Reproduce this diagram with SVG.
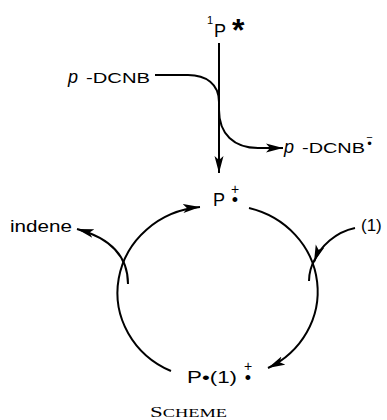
<svg xmlns="http://www.w3.org/2000/svg" width="387" height="420" viewBox="0 0 387 420">
<style>
.t{font-family:"Liberation Sans","DejaVu Sans",Arial,sans-serif;fill:#000}
.c{fill:none;stroke:#000;stroke-width:2}
.a{marker-end:url(#ah)}
</style>
<defs>
<marker id="ah" markerUnits="userSpaceOnUse" markerWidth="18" markerHeight="10" refX="17" refY="5" orient="auto">
<path d="M0,0.5 L17,5 L0,9.5 L4,5 Z" fill="#000"/>
</marker>
</defs>
<rect width="387" height="420" fill="#fff"/>
<g id="connectors">
<path class="c a" d="M219 43 V173"/>
<path class="c" d="M155 75 H188 C206 75 219 84 219 102"/>
<path class="c a" d="M219 110 C219 134 234 148 258 148 H283"/>
<path class="c a" d="M249 208 A91 86 0 0 1 268 368"/>
<path class="c a" d="M171 371 A91 86 0 0 1 200 207"/>
<path class="c a" d="M128 284 C128 256 110 238 77 229"/>
<path class="c a" d="M355 228 C336 232 320 246 314 262"/>
<path class="c" d="M315 259 C311 266 309 273 309 281"/>
</g>
<g id="n_p1star">
<text class="t" x="207" y="24" font-size="11">1</text>
<text class="t" x="214" y="37" font-size="18">P</text>
<text class="t" x="232" y="41" font-size="32" font-weight="bold">*</text>
</g>
<g id="n_dcnb">
<text class="t" x="68" y="83" font-size="15"><tspan font-style="italic" font-size="18">p</tspan><tspan x="86" textLength="64" lengthAdjust="spacingAndGlyphs">-DCNB</tspan></text>
</g>
<g id="n_dcnb_anion">
<text class="t" x="284" y="153" font-size="15"><tspan font-style="italic" font-size="18">p</tspan><tspan x="302" textLength="63" lengthAdjust="spacingAndGlyphs">-DCNB</tspan></text>
<text class="t" text-anchor="middle"><tspan x="369.5" y="141" font-size="11">−</tspan><tspan x="369.5" y="148" font-size="13">•</tspan></text>
</g>
<g id="n_pcation">
<text class="t" x="213" y="206" font-size="18">P</text>
<text class="t" text-anchor="middle"><tspan x="235" y="194" font-size="14">+</tspan><tspan x="235" y="205.5" font-size="18">•</tspan></text>
</g>
<g id="n_indene">
<text class="t" x="10" y="232" font-size="17" textLength="62" lengthAdjust="spacingAndGlyphs">indene</text>
</g>
<g id="n_one">
<text class="t" x="361" y="231" font-size="17">(1)</text>
</g>
<g id="n_complex">
<text class="t" x="187" y="383" font-size="17" textLength="50" lengthAdjust="spacingAndGlyphs">P•(1)</text>
<text class="t" text-anchor="middle"><tspan x="248" y="371" font-size="14">+</tspan><tspan x="248" y="384" font-size="18">•</tspan></text>
</g>
<g id="caption">
<text x="150" y="417" font-family="'Liberation Serif','DejaVu Serif',serif" font-size="15" textLength="77" lengthAdjust="spacingAndGlyphs">S<tspan font-size="12">CHEME</tspan></text>
</g>
</svg>
